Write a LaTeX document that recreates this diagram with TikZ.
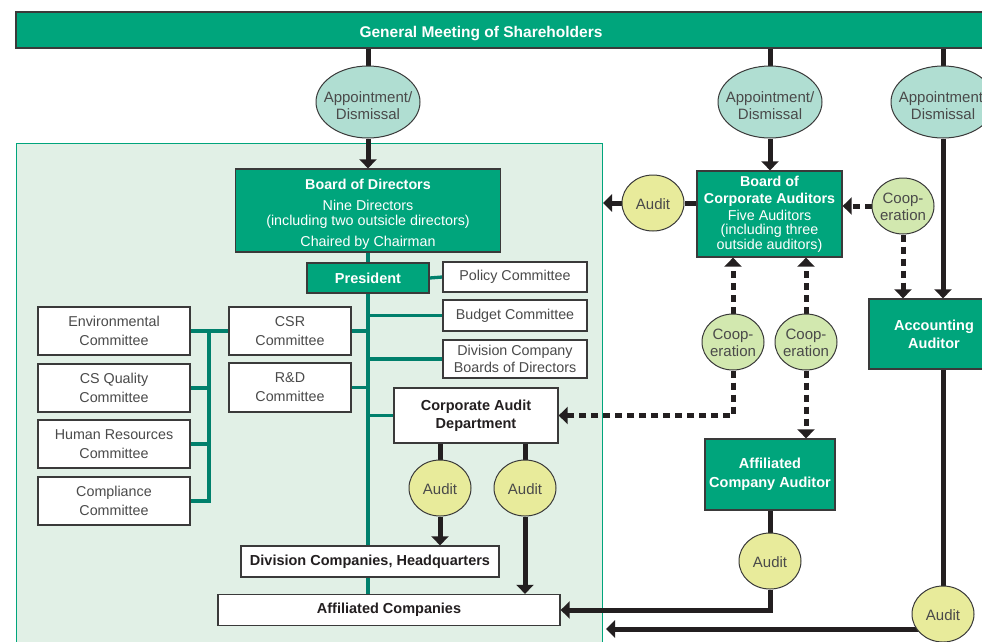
\documentclass[tikz,border=0pt]{standalone}
\usepackage{fontspec}
\setmainfont{Liberation Sans}
\usetikzlibrary{arrows.meta,shapes.geometric,backgrounds}

\definecolor{boardgreen}{HTML}{00A57C}
\definecolor{branch}{HTML}{00806C}
\definecolor{zone}{HTML}{E1F0E6}
\definecolor{apfill}{HTML}{B0DED2}
\definecolor{auditfill}{HTML}{E8EB9B}
\definecolor{coopfill}{HTML}{D2E8AF}
\definecolor{ink}{HTML}{231F20}
\definecolor{txtgray}{HTML}{4A4A4A}
\definecolor{edge}{HTML}{3A3A3A}

% centred text of an oval, kept out of the oval's size and set a little low
\newcommand\ovaltext[2][3pt]{\makebox[0pt]{\raisebox{-#1}[\height][\depth]{%
  \begin{tabular}{@{}c@{}}#2\end{tabular}}}}

\tikzset{
  sz/.style 2 args={minimum width=#1pt, minimum height=#2pt},
  box/.style={rectangle, draw=edge, line width=1.3pt, inner sep=0pt, align=center},
  greenbox/.style={box, fill=boardgreen, text=white, font=\fontsize{14.3}{18}\selectfont},
  whitebox/.style={box, fill=white, text=txtgray, font=\fontsize{14.3}{19}\selectfont},
  boldbox/.style={box, fill=white, text=ink, font=\fontsize{14.5}{18}\selectfont\bfseries},
  oval/.style={ellipse, draw=edge, line width=1pt, inner sep=0pt, text=txtgray,
               font=\fontsize{15}{17}\selectfont},
  apoval/.style={oval, fill=apfill, sz={104}{72}},
  auditoval/.style={oval, fill=auditfill, sz={62}{56}},
  coopoval/.style={oval, fill=coopfill, sz={62}{56}},
  link/.style={draw=ink, line width=5pt},
  linkarrow/.style={link, -{Triangle[width=17pt,length=9pt]}},
  dlink/.style={linkarrow, dash pattern=on 7pt off 5pt},
  branchline/.style={draw=branch, line width=3.3pt},
}

\begin{document}
\begin{tikzpicture}[x=1pt, y=-1pt]
\useasboundingbox (0,0) rectangle (982,641);
\clip (0,0) rectangle (982,641);

% shareholders bar
\node[box, fill=boardgreen, text=white, sz={984}{36}, text height=17pt, text depth=3pt,
      font=\fontsize{15.5}{18}\selectfont\bfseries] (gm) at (508,30)
      {\hspace*{-54pt}General Meeting of Shareholders};

% appointment ovals
\node[apoval] (ap1) at (368,102) {\ovaltext[6pt]{Appointment/\\Dismissal}};
\node[apoval] (ap2) at (770,102) {\ovaltext[6pt]{Appointment/\\Dismissal}};
\node[apoval] (ap3) at (943,102) {\ovaltext[6pt]{Appointment/\\Dismissal}};

% executive side
\node[greenbox, sz={265}{83}, font=\fontsize{14.3}{14.5}\selectfont] (bod) at (368,210.5)
  {\rule{0pt}{18pt}\textbf{Board of Directors}\\[7pt]
   Nine Directors\\
   (including two outsicle directors)\\[7pt]
   Chaired by Chairman};
\node[greenbox, sz={122}{30}, font=\fontsize{14.5}{18}\selectfont\bfseries] (pres) at (368,278) {President};

\node[whitebox, sz={144}{30}] (policy) at (515,277) {Policy Committee};
\node[whitebox, sz={144}{31}] (budget) at (515,315.5) {Budget Committee};
\node[whitebox, sz={144}{38}, font=\fontsize{14.3}{17}\selectfont] (divboard) at (515,359)
  {Division Company\\Boards of Directors};

\node[whitebox, sz={122}{48}] (csr) at (290,331) {CSR\\Committee};
\node[whitebox, sz={122}{49}] (rnd) at (290,387.5) {R\&D\\Committee};

\node[whitebox, sz={152}{48}] (env)  at (114,331) {Environmental\\Committee};
\node[whitebox, sz={152}{48}] (csq)  at (114,388) {CS Quality\\Committee};
\node[whitebox, sz={152}{48}] (hr)   at (114,444) {Human Resources\\Committee};
\node[whitebox, sz={152}{48}] (comp) at (114,501) {Compliance\\Committee};

\node[boldbox, sz={164}{55}] (cad) at (476,415.5) {Corporate Audit\\Department};
\node[auditoval] (au1) at (440,488) {\ovaltext{Audit}};
\node[auditoval] (au2) at (525,488) {\ovaltext{Audit}};

\node[boldbox, sz={258}{31}] (divco) at (370,561.5) {Division Companies, Headquarters};
\node[boldbox, sz={342}{31}] (affco) at (389,610) {Affiliated Companies};

% auditing side
\node[greenbox, sz={145}{86}, font=\fontsize{14.3}{14.5}\selectfont] (bca) at (769.5,214)
  {\textbf{Board of}\\[2.5pt]
   \textbf{Corporate Auditors}\\[2.5pt]
   Five Auditors\\
   (including three\\
   outside auditors)};
\node[auditoval] (auB) at (653,203) {\ovaltext{Audit}};
\node[coopoval] (coR) at (903,206) {\ovaltext{Coop-\\eration}};
\node[greenbox, sz={130}{70}, font=\fontsize{14.5}{18}\selectfont\bfseries] (aa) at (934,334)
  {Accounting\\Auditor};
\node[coopoval] (coL) at (733,342) {\ovaltext{Coop-\\eration}};
\node[coopoval] (coM) at (806,342) {\ovaltext{Coop-\\eration}};
\node[greenbox, sz={130}{71}, font=\fontsize{14.5}{19}\selectfont\bfseries] (aca) at (770,474.5)
  {Affiliated\\[0pt]Company Auditor\rule[-4pt]{0pt}{1pt}};
\node[auditoval] (auM) at (770,561) {\ovaltext{Audit}};
\node[auditoval] (auR) at (943,614) {\ovaltext{Audit}};

\coordinate (brk) at (209,0);
\coordinate (audtip) at (603,203);
\coordinate (bottip) at (606,629);

\begin{scope}[on background layer]
  % executive zone
  \fill[zone] (16,143) rectangle (602,660);
  \draw[boardgreen, line width=1pt] (16,660) -- (16,143) -- (602,143) -- (602,660);

  % executive branches
  \draw[branchline] (pres.center |- bod.south) -- (pres.center |- affco.north);
  \draw[branchline] (pres.east) -- (policy.west);
  \draw[branchline] (pres.center |- budget.west) -- (budget.west);
  \draw[branchline] (pres.center |- divboard.west) -- (divboard.west);
  \draw[branchline] (csr.east) -- (pres.center |- csr.east);
  \draw[branchline] (rnd.east) -- (pres.center |- rnd.east);
  \draw[branchline] (cad.west) -- (pres.center |- cad.west);
  \draw[branchline] (env.east) -- (csr.west);
  \draw[branchline] (brk |- env.east) -- (brk |- comp.east) -- (comp.east);
  \draw[branchline] (csq.east) -- (brk |- csq.east);
  \draw[branchline] (hr.east) -- (brk |- hr.east);

  % appointment lines
  \draw[link] (ap1.north |- gm.south) -- (ap1.north);
  \draw[linkarrow] (ap1.south) -- (bod.north);
  \draw[link] (ap2.north |- gm.south) -- (ap2.north);
  \draw[linkarrow] (ap2.south) -- (ap2.south |- bca.north);
  \draw[link] (ap3.north |- gm.south) -- (ap3.north);
  \draw[linkarrow] (ap3.south) -- (ap3.south |- aa.north);

  % audit and cooperation lines
  \draw[link] (bca.west |- auB) -- (auB.east);
  \draw[linkarrow] (auB.west) -- (audtip);
  \draw[dlink] (coR.west) -- (coR.west -| bca.east);
  \draw[dlink] (coR.south) -- (coR.south |- aa.north);
  \draw[dlink] (coL.north) -- (coL.north |- bca.south);
  \draw[dlink] (coM.north) -- (coM.north |- bca.south);
  \draw[dlink] (coL.south) |- (cad.east);
  \draw[dlink] (coM.south) -- (coM.south |- aca.north);
  \draw[link] (aca.south) -- (auM.north);
  \draw[linkarrow] (auM.south) |- (affco.east);
  \draw[link] (ap3.south |- aa.south) -- (auR.north);
  \draw[linkarrow] (auR.center |- bottip) -- (bottip);
  \draw[link] (cad.south -| au1) -- (au1.north);
  \draw[linkarrow] (au1.south) -- (au1.south |- divco.north);
  \draw[link] (cad.south -| au2) -- (au2.north);
  \draw[linkarrow] (au2.south) -- (au2.south |- affco.north);
\end{scope}
\end{tikzpicture}
\end{document}
